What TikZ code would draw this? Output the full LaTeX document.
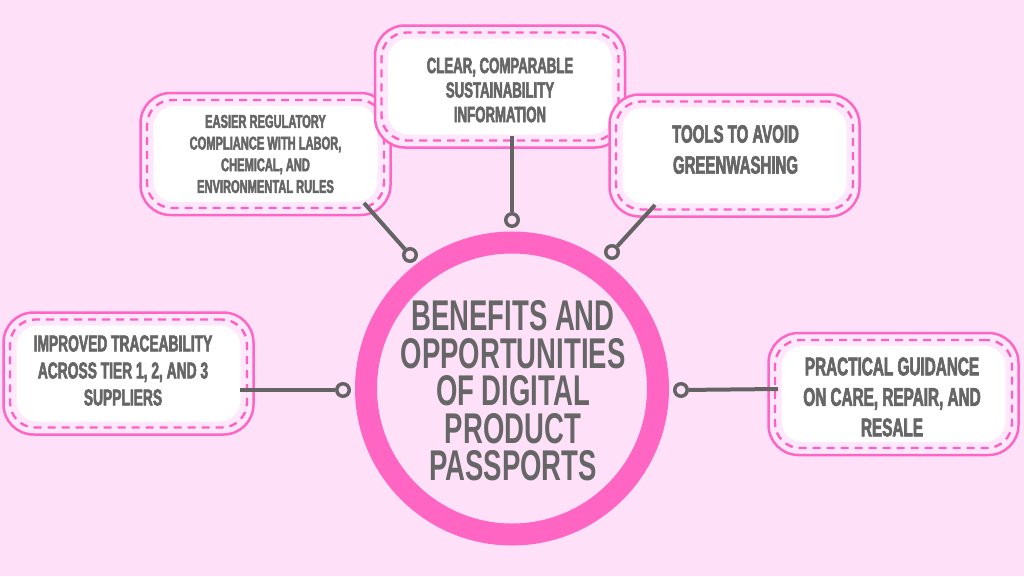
\documentclass[tikz,border=0pt]{standalone}
\usepackage{fontspec}
\setmainfont{Liberation Sans}
\newfontfamily\boxfont{Liberation Sans}[FakeStretch=0.6,FakeBold=2.5]
\newfontfamily\hubfont{Liberation Sans}[FakeStretch=0.64]
\definecolor{bgpink}{RGB}{254,225,249}
\definecolor{mainpink}{RGB}{255,102,196}
\definecolor{bandpink}{RGB}{255,232,251}
\definecolor{dashpink}{RGB}{255,95,192}
\definecolor{txtgray}{RGB}{102,102,102}
\definecolor{lngray}{RGB}{100,100,100}
\tikzset{
  outerbox/.style={draw=mainpink, line width=2.5pt, fill=bandpink, rounded corners=30pt,
    minimum width=250pt, minimum height=122pt, inner sep=0pt},
  dashbox/.style={draw=dashpink, line width=2.4pt, dash pattern=on 8pt off 6pt,
    rounded corners=25pt, minimum width=237pt, minimum height=108pt, inner sep=0pt},
  whitebox/.style={fill=white, rounded corners=21pt, minimum width=224pt,
    minimum height=96pt, inner sep=0pt},
  boxtext/.style={text=txtgray, align=center, inner sep=0pt},
  hubring/.style={circle, draw=mainpink, line width=22pt, minimum size=292pt, inner sep=0pt},
  conn/.style={draw=lngray, line width=4pt},
  dot/.style={circle, draw=lngray, line width=3.5pt, fill=bgpink, minimum size=12.5pt, inner sep=0pt}
}
\begin{document}
\begin{tikzpicture}[x=1pt,y=-1pt]
\useasboundingbox (0,0) rectangle (1024,576);
\fill[bgpink] (0,0) rectangle (1024,576);

% hub
\node[hubring] (hub) at (512,388.5) {};
\node[boxtext, font=\hubfont\bfseries\fontsize{43}{37.5}\selectfont] (hubtxt) at (513,391)
  {BENEFITS AND\\OPPORTUNITIES\\OF DIGITAL\\PRODUCT\\PASSPORTS};

% box 1
\node[outerbox] (b1) at (265.5,154) {};
\node[dashbox] (b1d) at (b1.center) {};
\node[whitebox] (b1w) at (b1.center) {};
% box 2
\node[outerbox] (b2) at (500,86.5) {};
\node[dashbox] (b2d) at (b2.center) {};
\node[whitebox] (b2w) at (b2.center) {};
% box 3
\node[outerbox] (b3) at (734.5,155.5) {};
\node[dashbox] (b3d) at (b3.center) {};
\node[whitebox] (b3w) at (b3.center) {};
% box 4
\node[outerbox] (b4) at (128.5,373.5) {};
\node[dashbox] (b4d) at (b4.center) {};
\node[whitebox] (b4w) at (b4.center) {};
% box 5
\node[outerbox] (b5) at (893.5,394) {};
\node[dashbox] (b5d) at (b5.center) {};
\node[whitebox] (b5w) at (b5.center) {};

% texts
\node[boxtext, font=\boxfont\bfseries\fontsize{18.5}{21.7}\selectfont] (t1) at (265.5,154)
  {EASIER REGULATORY\\COMPLIANCE WITH LABOR,\\CHEMICAL, AND\\ENVIRONMENTAL RULES};
\node[boxtext, font=\boxfont\bfseries\fontsize{22}{24.5}\selectfont] (t2) at (500,90)
  {CLEAR, COMPARABLE\\SUSTAINABILITY\\INFORMATION};
\node[boxtext, font=\boxfont\bfseries\fontsize{25}{31}\selectfont] (t3) at (735.5,149.5)
  {TOOLS TO AVOID\\GREENWASHING};
\node[boxtext, font=\boxfont\bfseries\fontsize{23}{27}\selectfont] (t4) at (123,370.5)
  {IMPROVED TRACEABILITY\\ACROSS TIER 1, 2, AND 3\\SUPPLIERS};
\node[boxtext, font=\boxfont\bfseries\fontsize{25.5}{30.5}\selectfont] (t5) at (892,397)
  {PRACTICAL GUIDANCE\\ON CARE, REPAIR, AND\\RESALE};

% connectors
\node[dot] (d1) at (410,255) {};
\node[dot] (d2) at (512,220) {};
\node[dot] (d3) at (612,252) {};
\node[dot] (d4) at (343,390) {};
\node[dot] (d5) at (681,390) {};
\coordinate (e1) at (364,203);
\coordinate (e2) at (512,136);
\coordinate (e3) at (655,205);
\coordinate (e4) at (240,390);
\coordinate (e5) at (778,389);
\draw[conn] (e1) -- (d1);
\draw[conn] (e2) -- (d2);
\draw[conn] (e3) -- (d3);
\draw[conn] (e4) -- (d4);
\draw[conn] (e5) -- (d5);
\end{tikzpicture}
\end{document}
